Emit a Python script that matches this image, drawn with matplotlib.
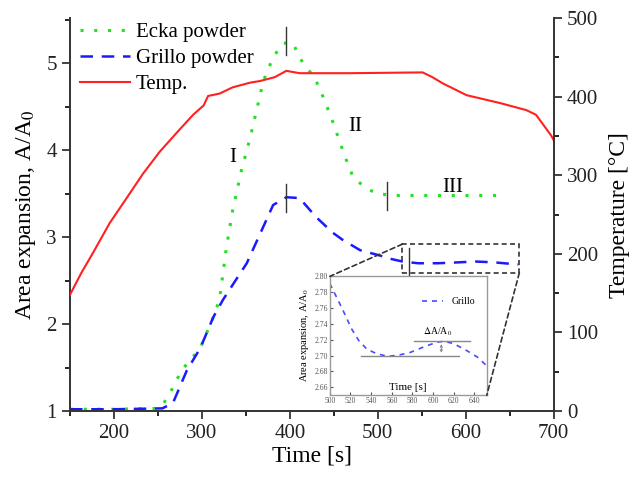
import numpy as np
import matplotlib
matplotlib.use("Agg")
import matplotlib.pyplot as plt
from matplotlib.patches import Rectangle, ConnectionPatch

# ========================
# DATA
# ========================
ecka_t = [150, 200, 250, 256, 266, 277, 298, 313, 320, 328, 335, 345, 355, 364, 370, 381, 392, 403,
          415, 428, 438, 447, 455, 463, 472, 487, 500, 520, 560, 600, 646]
ecka_v = [1.02, 1.02, 1.03, 1.08, 1.25, 1.47, 1.72, 2.08, 2.28, 2.89, 3.31, 3.77, 4.15, 4.54, 4.8, 5.07, 5.23, 5.24,
          5.0, 4.84, 4.61, 4.38, 4.15, 3.92, 3.69, 3.56, 3.5, 3.48, 3.48, 3.48, 3.48]

grillo_t = [150, 200, 255, 267, 283, 298, 313, 324, 351, 364, 381, 396, 411, 430, 449, 460, 480,
            502, 515, 528, 546, 568, 591, 611, 633, 660]
grillo_v = [1.02, 1.02, 1.03, 1.09, 1.47, 1.72, 2.08, 2.28, 2.70, 2.99, 3.37, 3.46, 3.45, 3.23, 3.05, 2.97, 2.85,
            2.79, 2.75, 2.72, 2.70, 2.70, 2.71, 2.72, 2.71, 2.685]

temp_t = [150, 163, 176, 195, 215, 233, 252, 272, 290, 302, 307, 320, 335, 355, 366, 383, 396, 411, 434, 468,
          551, 562, 574, 601, 639, 669, 680, 697, 700]
temp_T = [148, 176, 201, 239, 272, 302, 330, 355, 377, 389, 401, 404, 412, 418, 420, 425, 433, 430, 430, 430,
          431, 425, 417, 402, 392, 383, 377, 351, 345]

inset_t = [500, 508, 515, 521, 528, 536, 546, 557, 568, 578, 591, 604, 611, 620, 633, 643, 652]
inset_v = [2.791, 2.770, 2.751, 2.734, 2.719, 2.708, 2.702, 2.699, 2.701, 2.704, 2.711, 2.717, 2.718,
           2.715, 2.706, 2.698, 2.687]

# marker positions (time, value) for short vertical bars
markers = [(396, 3.45), (396, 5.26), (511, 3.47), (536, 2.71)]
stage_labels = [("I", 335, 3.92), ("II", 474, 4.27), ("III", 585, 3.57)]

# ========================
# STYLE
# ========================
plt.rcParams['font.family'] = ['Liberation Serif', 'DejaVu Serif']
plt.rcParams['mathtext.fontset'] = 'stix'

GREEN = "#22e022"
BLUE = "#1a1aff"
RED = "#ff2020"

fig = plt.figure(figsize=(6.33, 4.79), dpi=100)
ax1 = fig.add_axes([0.1106, 0.142, 0.7640, 0.820])
ax2 = ax1.twinx()

l1, = ax1.plot(ecka_t, ecka_v, color=GREEN, linestyle=(0, (1, 3.5)), lw=2.2, label="Ecka powder")
l2, = ax1.plot(grillo_t, grillo_v, color=BLUE, linestyle=(0, (5, 3.5)), lw=1.8, label="Grillo powder")
l3, = ax2.plot(temp_t, temp_T, color=RED, lw=1.5, label="Temp.")

for t, v in markers:
    ax1.plot([t, t], [v - 0.16, v + 0.16], color="#333333", lw=1.0)

for txt, t, v in stage_labels:
    ax1.text(t, v, txt, fontsize=15, ha="center", va="center")

ax1.set_xlim(150, 700)
ax1.set_ylim(1, 5.52)
ax2.set_ylim(0, 500)

ax1.set_xticks([200, 300, 400, 500, 600, 700])
ax1.set_xticks(np.arange(150, 701, 50), minor=True)
ax1.set_yticks([1, 2, 3, 4, 5])
ax1.set_yticks(np.arange(1, 5.6, 0.5), minor=True)
ax2.set_yticks([0, 100, 200, 300, 400, 500])
ax2.set_yticks(np.arange(0, 501, 50), minor=True)

for ax in (ax1, ax2):
    ax.spines["top"].set_visible(False)
    ax.tick_params(which="major", direction="out", length=6, width=1.2, labelsize=15, colors="#222222")
    ax.tick_params(which="minor", direction="out", length=3.5, width=1.2)
    for s in ax.spines.values():
        s.set_linewidth(1.4)
        s.set_color("#333333")
ax1.spines["right"].set_visible(False)
ax2.spines["left"].set_visible(False)
ax2.spines["bottom"].set_visible(False)

ax1.set_xlabel("Time [s]", fontsize=17, labelpad=2)
ax1.set_ylabel("Area expansion, A/A$_0$", fontsize=17, labelpad=6)
ax2.set_ylabel("Temperature [°C]", fontsize=17, labelpad=8)

ax1.legend([l1, l2, l3], ["Ecka powder", "Grillo powder", "Temp."], loc="upper left",
           frameon=False, fontsize=15, handlelength=2.4, handletextpad=0.25,
           labelspacing=0.3, borderaxespad=0.1, bbox_to_anchor=(0.0, 1.015))

# zoom rectangle on the main plot
rect_t0, rect_t1 = 528, 661
rect_v0, rect_v1 = 2.59, 2.92
ax1.add_patch(Rectangle((rect_t0, rect_v0), rect_t1 - rect_t0, rect_v1 - rect_v0,
                        fill=False, ls=(0, (3, 2)), lw=1.2, ec="#333333"))

# ========================
# INSET
# ========================
axin = fig.add_axes([0.521, 0.175, 0.248, 0.248])
axin.plot(inset_t, inset_v, color="#4a4aff", linestyle=(0, (3, 3)), lw=1.2, label="Grillo")
axin.set_xlim(500, 652)
axin.set_ylim(2.65, 2.80)
axin.set_xticks(np.arange(500, 641, 20))
axin.set_yticks(np.arange(2.66, 2.801, 0.02))
axin.yaxis.set_major_formatter(matplotlib.ticker.FormatStrFormatter("%.2f"))
axin.tick_params(labelsize=5.5, length=2, direction="in", colors="#555555", pad=1.5)
for s in axin.spines.values():
    s.set_color("#999999")
    s.set_linewidth(1.0)
axin.set_ylabel("Area expansion, A/A$_0$", fontsize=7.5, labelpad=2)
axin.text(0.5, 0.03, "Time [s]", transform=axin.transAxes, ha="center", va="bottom", fontsize=8)
axin.legend(loc="upper right", frameon=False, fontsize=7, handlelength=2.2,
            bbox_to_anchor=(0.98, 0.9))

# delta marks
axin.plot([530, 625], [2.700, 2.700], color="#888888", lw=1.0)
axin.plot([582, 636], [2.718, 2.718], color="#888888", lw=1.0)
axin.annotate("", xy=(608, 2.718), xytext=(608, 2.700),
              arrowprops=dict(arrowstyle="<->", color="#888888", lw=0.7, mutation_scale=4))
axin.text(604, 2.722, r"$\Delta$A/A$_0$", fontsize=7, ha="center", va="bottom")

# connector lines
for (xa, ya), (xb, yb) in [((rect_t0, rect_v1), (0, 1)), ((rect_t1, rect_v0), (1, 0))]:
    con = ConnectionPatch(xyA=(xa, ya), coordsA=ax1.transData, xyB=(xb, yb), coordsB=axin.transAxes,
                          ls=(0, (3, 2)), lw=1.2, color="#333333")
    fig.add_artist(con)

fig.savefig("out.png", dpi=100)
